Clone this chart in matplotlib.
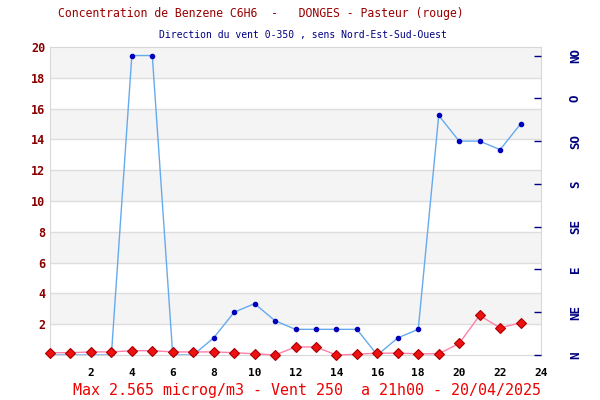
import matplotlib.pyplot as plt
import numpy as np

# Hourly values for the day (hour 0 to 23)
hours = list(range(24))
# Benzene concentration (microg/m3), red series, left axis
benzene = [0.15, 0.15, 0.2, 0.2, 0.28, 0.28, 0.2, 0.2, 0.2, 0.15, 0.08, 0.0,
           0.52, 0.52, 0.0, 0.05, 0.12, 0.12, 0.08, 0.08, 0.75, 2.565, 1.76, 2.09]
# Wind direction (degrees 0-350), blue series, right axis
wind = [0, 0, 0, 0, 350, 350, 0, 0, 20, 50, 60, 40,
        30, 30, 30, 30, 0, 20, 30, 280, 250, 250, 240, 270]
wind_labels = ['N', 'NE', 'E', 'SE', 'S', 'SO', 'O', 'NO']
wind_ticks = [0, 50, 100, 150, 200, 250, 300, 350]

title = 'Concentration de Benzene C6H6  -   DONGES - Pasteur (rouge)'
subtitle = 'Direction du vent 0-350 , sens Nord-Est-Sud-Ouest'
footer = 'Max 2.565 microg/m3 - Vent 250  a 21h00 - 20/04/2025'

mono = 'DejaVu Sans Mono'

fig = plt.figure(figsize=(6, 4), dpi=100)
ax = fig.add_axes([50 / 600, 45 / 400, 491 / 600, 308 / 400])

# Alternating grey bands every 2 units
for y0 in range(2, 20, 4):
    ax.axhspan(y0, y0 + 2, color='#f4f4f4', zorder=0, lw=0)
for y0 in range(2, 20, 2):
    ax.axhline(y0, color='#dddddd', lw=1, zorder=1)

ax.set_xlim(0, 24)
ax.set_ylim(0, 20)
ax.set_xticks(range(2, 25, 2))
ax.set_yticks(range(2, 21, 2))
ax.tick_params(axis='both', length=0)
ax.tick_params(axis='x', pad=9)
for lab in ax.get_xticklabels():
    lab.set_fontfamily(mono)
    lab.set_fontweight('bold')
    lab.set_fontsize(8)
for lab in ax.get_yticklabels():
    lab.set_fontfamily(mono)
    lab.set_fontweight('bold')
    lab.set_fontsize(8.5)
    lab.set_color('#880000')
for s in ax.spines.values():
    s.set_color('#d8d8d8')

# Wind direction axis on the right, drawn on top of the bands
ax2 = ax.twinx()
ax2.set_ylim(0, 360)
ax2.set_yticks(wind_ticks)
ax2.set_yticklabels(wind_labels, rotation=90, va='center')
ax2.tick_params(axis='y', direction='in', length=5, width=1, color='#000080',
                pad=20, labelcolor='#000080')
for lab in ax2.get_yticklabels():
    lab.set_fontfamily(mono)
    lab.set_fontweight('bold')
    lab.set_fontsize(9)
for s in ax2.spines.values():
    s.set_visible(False)

ax2.plot(hours, wind, color='#66aaee', lw=1, marker='o', ms=3,
         mfc='#0000bb', mec='#0000bb', zorder=3)
# benzene on top, still in left-axis units
ax2.plot(hours, benzene, color='#ff80aa', lw=1, marker='D', ms=4.8,
         mfc='#ee1111', mec='#aa0000', mew=0.8, zorder=4, clip_on=False,
         transform=ax.transData)

fig.text(0.435, 0.965, title, ha='center', va='center', family=mono,
         fontsize=8.3, color='#990000')
fig.text(0.505, 0.912, subtitle, ha='center', va='center', family=mono,
         fontsize=7, color='#000080')
fig.text(0.512, 0.025, footer, ha='center', va='center', family=mono,
         fontsize=10.8, color='#ee0000')

fig.savefig('out.png', dpi=100)
